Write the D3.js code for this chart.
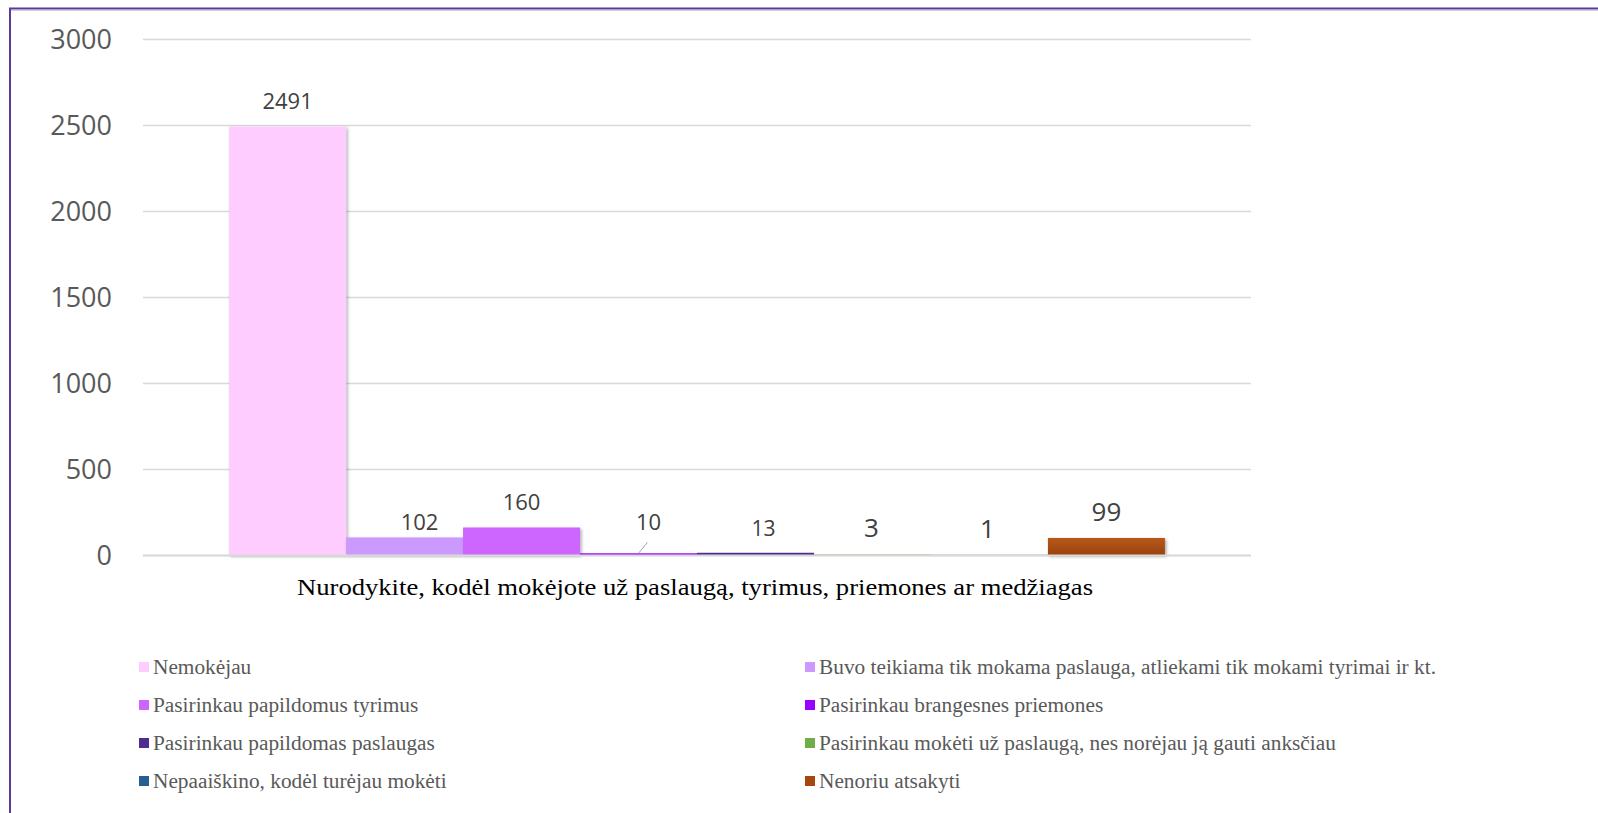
<!DOCTYPE html>
<html>
<head>
<meta charset="utf-8">
<script src="https://cdn.jsdelivr.net/npm/d3@7/dist/d3.min.js"></script>
<style>
  html, body { margin: 0; padding: 0; background: #fff; }
  svg { display: block; }
</style>
</head>
<body>
<div id="chart"></div>
<script>
// ---- data ----
const seriesNames = [
  "Nemokėjau",
  "Buvo teikiama tik mokama paslauga, atliekami tik mokami tyrimai ir kt.",
  "Pasirinkau papildomus tyrimus",
  "Pasirinkau brangesnes priemones",
  "Pasirinkau papildomas paslaugas",
  "Pasirinkau mokėti už paslaugą, nes norėjau ją gauti anksčiau",
  "Nepaaiškino, kodėl turėjau mokėti",
  "Nenoriu atsakyti"
];
const seriesValues = [2491, 102, 160, 10, 13, 3, 1, 99];
const categoryLabel = "Nurodykite, kodėl mokėjote už paslaugą, tyrimus, priemones ar medžiagas";
const yTicks = [0, 500, 1000, 1500, 2000, 2500, 3000];

// ---- styles ----
const seriesColors = ["#ffccff", "#cc99ff", "#cc66ff", "#9900ff", "#4f2d8f", "#70ad47", "#255e91", "#a5470f"];
const labelSizes = [22, 22, 22, 22, 21, 26, 26, 26];
const labelDx = [0, 15, 0, 10, 8, -1, -2, 0];
const labelDy = [-18, -7, -17, -23, -17, -17, -17, -17];

const W = 1598, H = 813;
const svg = d3.select("#chart").append("svg").attr("width", W).attr("height", H);

const defs = svg.append("defs");
const f = defs.append("filter").attr("id", "shadow").attr("x", "-10%").attr("y", "-10%").attr("width", "130%").attr("height", "130%");
f.append("feDropShadow").attr("dx", 1.5).attr("dy", 1.5).attr("stdDeviation", 1.8).attr("flood-color", "#000").attr("flood-opacity", 0.35);
const g1 = defs.append("linearGradient").attr("id", "brown").attr("x1", 0).attr("y1", 0).attr("x2", 0).attr("y2", 1);
g1.append("stop").attr("offset", "0%").attr("stop-color", "#b8571a");
g1.append("stop").attr("offset", "100%").attr("stop-color", "#9a430c");

// frame
svg.append("rect").attr("x", 10).attr("y", 8.5).attr("width", W + 20).attr("height", H + 20)
  .attr("fill", "none").attr("stroke", "#5b3a9a").attr("stroke-width", 2);
svg.append("line").attr("x1", 11).attr("x2", W).attr("y1", 10.5).attr("y2", 10.5)
  .attr("stroke", "#d9c8f0").attr("stroke-width", 1);

const plotL = 143, plotR = 1251, plotT = 39, plotB = 555;
const y = d3.scaleLinear().domain([0, 3000]).range([plotB, plotT]);
const x0 = d3.scaleBand().domain([categoryLabel]).range([plotL, plotR]).paddingInner(0).paddingOuter(0.092);
const x1 = d3.scaleBand().domain(seriesNames).range([0, x0.bandwidth()]).padding(0);

// gridlines
const yAxis = d3.axisLeft(y).tickValues(yTicks).tickSize(-(plotR - plotL)).tickFormat(d3.format("d"));
const ga = svg.append("g").attr("transform", `translate(${plotL},0)`).call(yAxis);
ga.select(".domain").remove();
ga.selectAll(".tick line").attr("stroke", "#d9d9d9").attr("stroke-width", 1.5);
ga.selectAll(".tick text").attr("x", -31).attr("dy", "0.34em")
  .attr("font-family", "'Open Sans', sans-serif").attr("font-size", 27).attr("fill", "#595959");

// bars
const gb = svg.append("g").attr("transform", `translate(${x0(categoryLabel)},0)`);
gb.selectAll("rect").data(seriesValues).join("rect")
  .attr("x", (d, i) => x1(seriesNames[i]))
  .attr("width", x1.bandwidth())
  .attr("y", d => y(d))
  .attr("height", d => y(0) - y(d))
  .attr("fill", (d, i) => i === 7 ? "url(#brown)" : seriesColors[i])
  .attr("filter", (d, i) => (i <= 2 || i === 7) ? "url(#shadow)" : null);

// x axis line
svg.append("line").attr("x1", plotL).attr("x2", plotR).attr("y1", plotB + 0.5).attr("y2", plotB + 0.5)
  .attr("stroke", "#d9d9d9").attr("stroke-width", 2);

// data labels
gb.selectAll("text.lbl").data(seriesValues).join("text").attr("class", "lbl")
  .attr("x", (d, i) => x1(seriesNames[i]) + x1.bandwidth() / 2 + labelDx[i])
  .attr("y", (d, i) => y(d) + labelDy[i])
  .attr("text-anchor", "middle")
  .attr("font-family", "'Open Sans', sans-serif")
  .attr("font-size", (d, i) => labelSizes[i])
  .attr("fill", "#404040")
  .text(d => d);

// leader line for label "10"
{
  const i = 3;
  const cx = x0(categoryLabel) + x1(seriesNames[i]) + x1.bandwidth() / 2;
  svg.append("line").attr("x1", cx + 9).attr("y1", y(seriesValues[i]) - 11)
    .attr("x2", cx).attr("y2", y(seriesValues[i]))
    .attr("stroke", "#a6a6a6").attr("stroke-width", 1);
}

// category label
svg.append("text").attr("x", x0(categoryLabel) + x0.bandwidth() / 2 - 2).attr("y", 595)
  .attr("text-anchor", "middle").attr("font-family", "'Liberation Serif', 'Times New Roman', serif")
  .attr("font-size", 24).attr("fill", "#000")
  .attr("textLength", 796).attr("lengthAdjust", "spacingAndGlyphs")
  .text(categoryLabel);

// legend
const legX = [139, 805], legY0 = 662, legStep = 38;
const lg = svg.append("g").selectAll("g").data(seriesNames).join("g")
  .attr("transform", (d, i) => `translate(${legX[i % 2]},${legY0 + Math.floor(i / 2) * legStep})`);
lg.append("rect").attr("width", 10).attr("height", 10)
  .attr("fill", (d, i) => seriesColors[i]);
lg.append("text").attr("x", 14).attr("y", 11.5)
  .attr("font-family", "'Liberation Serif', 'Times New Roman', serif").attr("font-size", 20.5)
  .attr("fill", "#595959").text(d => d)
  .each(function () {
    const len = this.getComputedTextLength();
    d3.select(this).attr("textLength", len * 1.04).attr("lengthAdjust", "spacingAndGlyphs");
  });
</script>
</body>
</html>
